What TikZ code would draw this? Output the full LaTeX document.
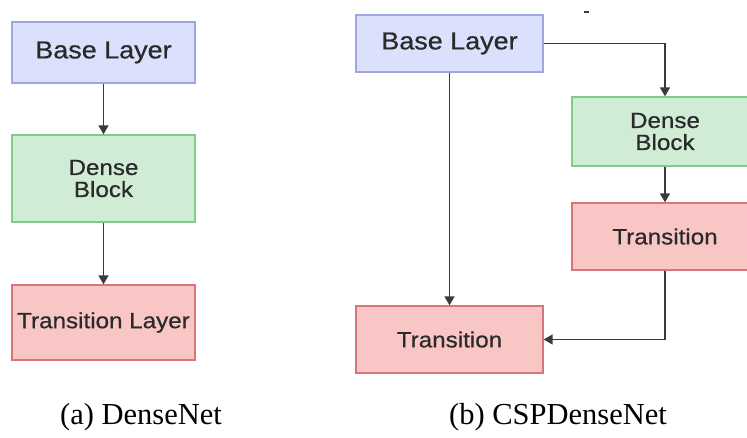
\documentclass[tikz,border=0pt]{standalone}
\usepackage{fontspec}
\setmainfont{Liberation Serif}
\newfontfamily\labfont[FakeStretch=1.1,FakeBold=0.6]{Liberation Sans}
\definecolor{bfill}{HTML}{DBE0FC}
\definecolor{bdraw}{HTML}{9EA7E0}
\definecolor{gfill}{HTML}{D0ECD4}
\definecolor{gdraw}{HTML}{80CC88}
\definecolor{rfill}{HTML}{F9C6C6}
\definecolor{rdraw}{HTML}{D8757A}
\definecolor{txt}{HTML}{2A2A2A}
\definecolor{ln}{HTML}{3A3A3A}
\usetikzlibrary{arrows.meta}
\tikzset{
  boxbase/.style={rectangle, line width=1.3pt, inner sep=0pt, text=txt, align=center,
    font=\labfont\fontsize{22}{24}\selectfont},
  bluebox/.style={boxbase, fill=bfill, draw=bdraw},
  greenbox/.style={boxbase, fill=gfill, draw=gdraw},
  redbox/.style={boxbase, fill=rfill, draw=rdraw},
  conn/.style={draw=ln, line width=1.5pt, -{Triangle[length=9pt,width=10pt]}},
  captext/.style={font=\fontsize{30.5}{32}\selectfont, text=black, inner sep=0pt}
}
\begin{document}
\begin{tikzpicture}[x=1pt,y=-1pt]
\useasboundingbox (0,0) rectangle (747,438);
\begin{scope}
\clip (0,0) rectangle (747,438);
% (a) DenseNet
\node[bluebox, minimum width=183pt, minimum height=61pt, font=\labfont\fontsize{24.5}{26}\selectfont] (a1) at (103.5,52.5) {Base Layer};
\node[greenbox, minimum width=183pt, minimum height=87pt] (a2) at (103.5,178.5) {Dense\\[-2pt]Block};
\node[redbox, minimum width=183pt, minimum height=75pt] (a3) at (103.5,322.5) {Transition Layer};
\draw[conn] (a1) -- (a2);
\draw[conn] (a2) -- (a3);
\node[captext] (capa) at (141,417) {(a) DenseNet};
% (b) CSPDenseNet
\node[bluebox, minimum width=187pt, minimum height=57pt, font=\labfont\fontsize{24.5}{26}\selectfont] (b1) at (449.5,43.5) {Base Layer};
\node[greenbox, minimum width=186pt, minimum height=69pt] (b2) at (665,131.5) {Dense\\[-2pt]Block};
\node[redbox, minimum width=186pt, minimum height=67pt] (b3) at (665,236.5) {Transition};
\node[redbox, minimum width=187pt, minimum height=67pt] (b4) at (449.5,339.5) {Transition};
\draw[conn] (b1.east) -| (b2.north);
\draw[conn] (b2) -- (b3);
\draw[conn] (b1.south) -- (b4.north);
\draw[conn] (b3.south) |- (b4.east);
\coordinate (d1) at (584,12);
\coordinate (d2) at (589,12);
\draw[line width=1.5pt, ln] (d1) -- (d2);
\node[captext] (capb) at (558,417) {(b) CSPDenseNet};
\end{scope}
\end{tikzpicture}
\end{document}
